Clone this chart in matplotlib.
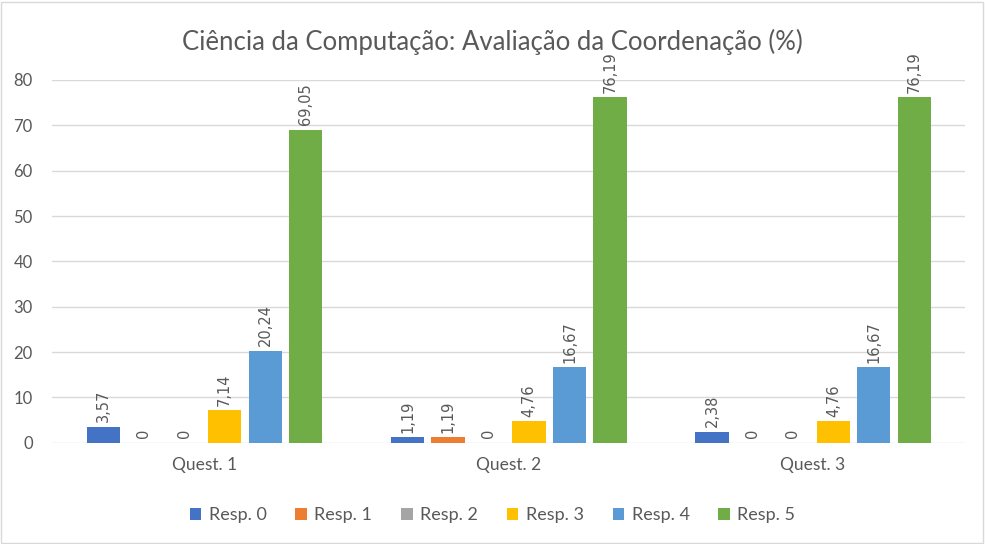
import numpy as np
import matplotlib.pyplot as plt
from matplotlib.patches import Rectangle

# ── data ───────────────────────────────────────────────────────────────────
questions = ["Quest. 1", "Quest. 2", "Quest. 3"]
responses = ["Resp. 0", "Resp. 1", "Resp. 2", "Resp. 3", "Resp. 4", "Resp. 5"]
resp0 = [3.57, 1.19, 2.38]
resp1 = [0, 1.19, 0]
resp2 = [0, 0, 0]
resp3 = [7.14, 4.76, 4.76]
resp4 = [20.24, 16.67, 16.67]
resp5 = [69.05, 76.19, 76.19]
series = [resp0, resp1, resp2, resp3, resp4, resp5]
colors = ["#4472C4", "#ED7D31", "#A5A5A5", "#FFC000", "#5B9BD5", "#70AD47"]

plt.rcParams["font.family"] = ["Lato", "DejaVu Sans"]
text_col = "#595959"

fig = plt.figure(figsize=(9.85, 5.44), dpi=100)
ax = fig.add_axes([0.053, 0.186, 0.927, 0.667])

x = np.arange(len(questions))
pitch, w = 0.133, 0.109
for k, (vals, col, name) in enumerate(zip(series, colors, responses)):
    pos = x + (k - 2.5) * pitch
    ax.bar(pos, vals, w, color=col, label=name, zorder=3)
    for xp, v in zip(pos, vals):
        lab = f"{v:.2f}".replace(".", ",") if v else "0"
        ax.text(xp, v + 1.0, lab, rotation=90, ha="center", va="bottom",
                fontsize=10.5, color=text_col, family="DejaVu Sans")

ax.set_xlim(-0.5, 2.5)
ax.set_ylim(0, 80)
ax.set_yticks(range(0, 81, 10))
ax.set_xticks(x)
ax.set_xticklabels(questions)
ax.tick_params(axis="y", length=0, labelsize=12, colors=text_col, pad=14)
ax.tick_params(axis="x", length=0, labelsize=12.5, colors=text_col, pad=10)
ax.grid(axis="y", color="#D9D9D9", lw=1, zorder=0)
for s in ax.spines.values():
    s.set_visible(False)

fig.text(0.5, 0.923, "Ciência da Computação: Avaliação da Coordenação (%)",
         ha="center", va="center", fontsize=18.5, color=text_col)
fig.legend(loc="center", bbox_to_anchor=(0.5, 0.053), ncol=6, frameon=False,
           fontsize=13, handlelength=0.65, handleheight=0.65, handletextpad=0.4,
           columnspacing=1.6, labelcolor=text_col)
fig.add_artist(Rectangle((0.001, 0.002), 0.997, 0.994, transform=fig.transFigure,
                         fill=False, edgecolor="#D9D9D9", lw=1))

fig.savefig("out.png", dpi=100)
